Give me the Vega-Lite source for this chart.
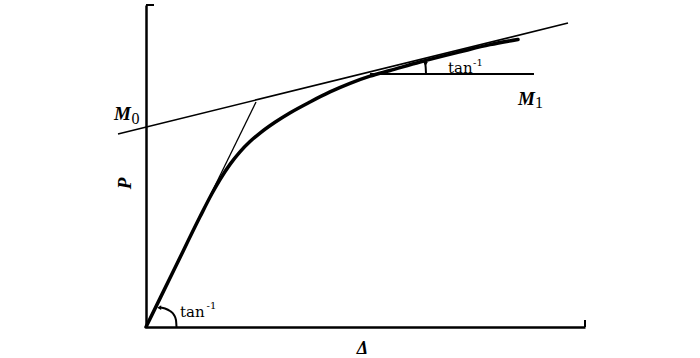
{
  "$schema": "https://vega.github.io/schema/vega-lite/v6.json",
  "width": 439,
  "height": 322,
  "autosize": {"type": "none"},
  "padding": {"left": 146, "top": 5, "right": 115, "bottom": 31},
  "background": "white",
  "config": {"view": {"stroke": null}},
  "datasets": {
    "lines": [
      {"s": "curve", "i": 0, "x": 0, "y": 0},
      {"s": "curve", "i": 1, "x": 6.61, "y": 18.39},
      {"s": "curve", "i": 2, "x": 12.3, "y": 34.22},
      {"s": "curve", "i": 3, "x": 15.03, "y": 41.46},
      {"s": "curve", "i": 4, "x": 16.86, "y": 45.81},
      {"s": "curve", "i": 5, "x": 19.13, "y": 50.51},
      {"s": "curve", "i": 6, "x": 21.41, "y": 54.39},
      {"s": "curve", "i": 7, "x": 23.69, "y": 57.58},
      {"s": "curve", "i": 8, "x": 25.97, "y": 60.23},
      {"s": "curve", "i": 9, "x": 29.38, "y": 63.59},
      {"s": "curve", "i": 10, "x": 32.76, "y": 66.48},
      {"s": "curve", "i": 11, "x": 37.36, "y": 69.89},
      {"s": "curve", "i": 12, "x": 41.91, "y": 73.0},
      {"s": "curve", "i": 13, "x": 46.47, "y": 75.67},
      {"s": "curve", "i": 14, "x": 51.03, "y": 77.9},
      {"s": "curve", "i": 15, "x": 55.58, "y": 79.64},
      {"s": "curve", "i": 16, "x": 62.41, "y": 82.3},
      {"s": "curve", "i": 17, "x": 71.53, "y": 85.46},
      {"s": "curve", "i": 18, "x": 78.36, "y": 87.7},
      {"s": "curve", "i": 19, "x": 84.74, "y": 89.29},
      {"s": "tangent", "i": 0, "x": -6.38, "y": 59.94},
      {"s": "tangent", "i": 1, "x": 96.13, "y": 94.41},
      {"s": "initial", "i": 0, "x": 14.58, "y": 40.68},
      {"s": "initial", "i": 1, "x": 25.06, "y": 69.88},
      {"s": "m1", "i": 0, "x": 51.03, "y": 78.57},
      {"s": "m1", "i": 1, "x": 88.38, "y": 78.57},
      {"s": "arcTop", "i": 0, "x": 63.78, "y": 78.57},
      {"s": "arcTop", "i": 1, "x": 63.71, "y": 80.59},
      {"s": "arcTop", "i": 2, "x": 63.55, "y": 82.3},
      {"s": "arcBottom", "i": 0, "x": 6.95, "y": 0},
      {"s": "arcBottom", "i": 1, "x": 6.83, "y": 2.17},
      {"s": "arcBottom", "i": 2, "x": 6.38, "y": 3.73},
      {"s": "arcBottom", "i": 3, "x": 5.47, "y": 4.97},
      {"s": "arcBottom", "i": 4, "x": 4.33, "y": 5.75},
      {"s": "arcBottom", "i": 5, "x": 3.3, "y": 6.06},
      {"s": "topTick", "i": 0, "x": 0, "y": 100},
      {"s": "topTick", "i": 1, "x": 1.82, "y": 100},
      {"s": "rightTick", "i": 0, "x": 100, "y": 0},
      {"s": "rightTick", "i": 1, "x": 100, "y": 2.17}
    ],
    "arrows": [
      {"x": 63.67, "y": 81.7, "shape": "triangle-down"},
      {"x": 3.0, "y": 6.0, "shape": "triangle-left"}
    ],
    "labels": [
      {"k": "M", "x": -7.29, "y": 64.29, "t": "M"},
      {"k": "M", "x": 84.74, "y": 68.94, "t": "M"},
      {"k": "sub", "x": -3.3, "y": 62.89, "t": "0"},
      {"k": "sub", "x": 88.61, "y": 68.01, "t": "1"},
      {"k": "tan", "x": 68.8, "y": 78.88, "t": "tan"},
      {"k": "tan", "x": 7.74, "y": 3.11, "t": "tan"},
      {"k": "sup", "x": 74.5, "y": 81.06, "t": "-1"},
      {"k": "sup", "x": 13.8, "y": 5.59, "t": "-1"}
    ]
  },
  "encoding": {
    "x": {"field": "x", "type": "quantitative", "scale": {"domain": [0, 100], "nice": false, "zero": false},
      "axis": {"ticks": false, "labels": false, "grid": false, "domainColor": "black", "domainWidth": 2.5,
        "title": "Δ", "titleFont": "Liberation Serif", "titleFontStyle": "italic", "titleFontWeight": "bold", "titleFontSize": 18,
        "titleColor": "black", "titleAlign": "center", "titleBaseline": "alphabetic", "titleX": 216, "titleY": 26}},
    "y": {"field": "y", "type": "quantitative", "scale": {"domain": [0, 100], "nice": false, "zero": false},
      "axis": {"ticks": false, "labels": false, "grid": false, "domainColor": "black", "domainWidth": 2.5,
        "title": "P", "titleFont": "Liberation Serif", "titleFontStyle": "italic", "titleFontWeight": "bold", "titleFontSize": 19,
        "titleColor": "black", "titleAngle": 270, "titleAlign": "center", "titleBaseline": "alphabetic", "titleX": -16, "titleY": 178}}
  },
  "layer": [
    {"data": {"name": "lines"}, "transform": [{"filter": "datum.s === 'tangent'"}],
      "mark": {"type": "line", "color": "black", "strokeWidth": 1.6}, "encoding": {"order": {"field": "i"}}},
    {"data": {"name": "lines"}, "transform": [{"filter": "datum.s === 'initial'"}],
      "mark": {"type": "line", "color": "black", "strokeWidth": 1.3}, "encoding": {"order": {"field": "i"}}},
    {"data": {"name": "lines"}, "transform": [{"filter": "datum.s === 'm1'"}],
      "mark": {"type": "line", "color": "black", "strokeWidth": 2}, "encoding": {"order": {"field": "i"}}},
    {"data": {"name": "lines"}, "transform": [{"filter": "datum.s === 'curve'"}],
      "mark": {"type": "line", "color": "black", "strokeWidth": 3.5, "interpolate": "monotone", "strokeCap": "round"}, "encoding": {"order": {"field": "i"}}},
    {"data": {"name": "lines"}, "transform": [{"filter": "datum.s === 'arcTop' || datum.s === 'arcBottom' || datum.s === 'topTick' || datum.s === 'rightTick'"}],
      "mark": {"type": "line", "color": "black", "strokeWidth": 2, "interpolate": "monotone"},
      "encoding": {"order": {"field": "i"}, "detail": {"field": "s"}}},
    {"data": {"name": "arrows"},
      "mark": {"type": "point", "filled": true, "color": "black", "size": 22, "opacity": 1},
      "encoding": {"shape": {"field": "shape", "type": "nominal", "scale": null}}},
    {"data": {"name": "labels"}, "transform": [{"filter": "datum.k === 'M'"}],
      "mark": {"type": "text", "font": "Liberation Serif", "fontStyle": "italic", "fontWeight": "bold", "fontSize": 19, "align": "left", "baseline": "alphabetic", "color": "black"},
      "encoding": {"text": {"field": "t"}}},
    {"data": {"name": "labels"}, "transform": [{"filter": "datum.k === 'sub'"}],
      "mark": {"type": "text", "font": "Liberation Serif", "fontSize": 16, "align": "left", "baseline": "alphabetic", "color": "black"},
      "encoding": {"text": {"field": "t"}}},
    {"data": {"name": "labels"}, "transform": [{"filter": "datum.k === 'tan'"}],
      "mark": {"type": "text", "font": "DejaVu Serif", "fontSize": 15, "align": "left", "baseline": "alphabetic", "color": "black"},
      "encoding": {"text": {"field": "t"}}},
    {"data": {"name": "labels"}, "transform": [{"filter": "datum.k === 'sup'"}],
      "mark": {"type": "text", "font": "DejaVu Serif", "fontSize": 10, "align": "left", "baseline": "alphabetic", "color": "black"},
      "encoding": {"text": {"field": "t"}}}
  ]
}
